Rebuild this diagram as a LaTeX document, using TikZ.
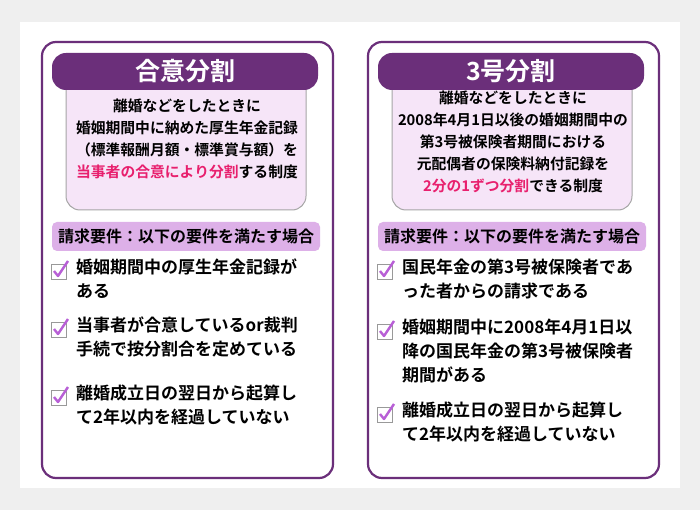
\documentclass[tikz,border=0pt]{standalone}
\usepackage{fontspec}
\setmainfont{Noto Sans CJK JP}[BoldFont={* Bold}]
\definecolor{pur}{HTML}{6B2F7A}
\definecolor{lpink}{HTML}{F6E5F8}
\definecolor{bar}{HTML}{DDB0E8}
\definecolor{chk}{HTML}{B85FD6}
\definecolor{red}{HTML}{E8206E}
\definecolor{bg}{HTML}{EFEFEF}
\begin{document}
\begin{tikzpicture}[x=1pt,y=-1pt,font=\bfseries,
  panel/.style={draw=pur,line width=2.2pt,fill=white,rounded corners=14pt},
  pill/.style={fill=pur,rounded corners=14pt},
  desc/.style={draw=gray!70,line width=1pt,fill=lpink,rounded corners=14pt},
  reqbar/.style={fill=bar,rounded corners=5pt},
  item/.style={anchor=north west,align=left,font=\bfseries\fontsize{17}{24}\selectfont,inner sep=0pt},
  dtext/.style={align=center,font=\bfseries\fontsize{14.8}{22}\selectfont},
  ]
\useasboundingbox (0,0) rectangle (700,510);
\fill[bg] (0,0) rectangle (700,510);
\fill[white] (20,22) rectangle (680,488);
\newcommand{\chkbox}[2]{%
  \draw[gray!80,line width=1pt] (#1,#2) rectangle ++(15,15);
  \draw[chk,line width=2.4pt,line join=round] (#1+3,#2+7) -- (#1+7,#2+12) -- (#1+17,#2-3);}
\foreach \ox in {0,326}{
 \begin{scope}[xshift=\ox]
 \draw[panel] (42,42) rectangle (333,478);
 \draw[desc] (66,70) rectangle (306,210);
 \fill[pill] (52,53) rectangle (318,90);
 \fill[reqbar] (52,222) rectangle (320,251);
 \end{scope}}
\node[white,font=\bfseries\fontsize{25}{28}\selectfont] (t1) at (185,71) {合意分割};
\node[white,font=\bfseries\fontsize{25}{28}\selectfont] (t2) at (511,71) {3号分割};
\node[dtext] (d1) at (187,139) {離婚などをしたときに\\婚姻期間中に納めた厚生年金記録\\（標準報酬月額・標準賞与額）を\\\textcolor{red}{当事者の合意により分割}する制度};
\node[dtext] (d2) at (513,142) {離婚などをしたときに\\2008年4月1日以後の婚姻期間中の\\第3号被保険者期間における\\元配偶者の保険料納付記録を\\\textcolor{red}{2分の1ずつ分割}できる制度};
\node[font=\bfseries\fontsize{16}{18}\selectfont] (r1) at (186,236.5) {請求要件：以下の要件を満たす場合};
\node[font=\bfseries\fontsize{16}{18}\selectfont] (r2) at (512,236.5) {請求要件：以下の要件を満たす場合};
\chkbox{51}{264}\chkbox{51}{322}\chkbox{51}{390}
\chkbox{377}{264}\chkbox{377}{324}\chkbox{377}{407}
\node[item] (a1) at (76,259) {婚姻期間中の厚生年金記録が\\ある};
\node[item] (a2) at (76,317) {当事者が合意しているor裁判\\手続で按分割合を定めている};
\node[item] (a3) at (76,385) {離婚成立日の翌日から起算し\\て2年以内を経過していない};
\node[item] (b1) at (402,259) {国民年金の第3号被保険者であ\\った者からの請求である};
\node[item] (b2) at (402,319) {婚姻期間中に2008年4月1日以\\降の国民年金の第3号被保険者\\期間がある};
\node[item] (b3) at (402,402) {離婚成立日の翌日から起算し\\て2年以内を経過していない};
\end{tikzpicture}
\end{document}
